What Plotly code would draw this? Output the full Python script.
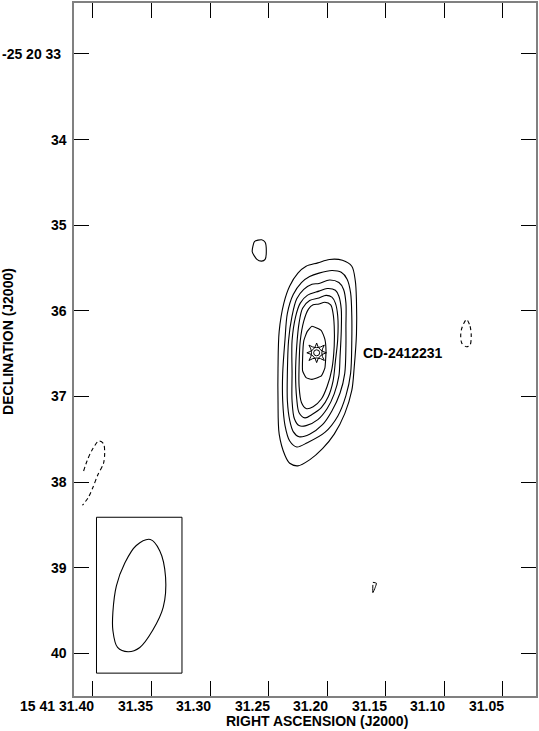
import plotly.graph_objects as go

FONT = "Liberation Sans, Arial, Helvetica, sans-serif"

# axis ticks (RA in seconds of 15h41m, Dec in arcsec of -25d20m)
RA_TICKS = [31.40, 31.35, 31.30, 31.25, 31.20, 31.15, 31.10, 31.05]
RA_LABELS = ["15 41 31.40", "31.35", "31.30", "31.25", "31.20", "31.15", "31.10", "31.05"]
DEC_TICKS = [33, 34, 35, 36, 37, 38, 39, 40]
DEC_LABELS = ["-25 20 33", "34", "35", "36", "37", "38", "39", "40"]

# main source contours, outer to inner
C1_RA = [31.208, 31.198, 31.187, 31.179, 31.176, 31.175, 31.175, 31.177, 31.179, 31.185, 31.194, 31.204,
         31.215, 31.225, 31.232, 31.236, 31.241, 31.242, 31.242, 31.241, 31.237, 31.232, 31.225, 31.218]
C1_DEC = [35.44, 35.40, 35.41, 35.48, 35.65, 35.89, 36.27, 36.67, 36.93, 37.20, 37.44, 37.61,
          37.74, 37.81, 37.78, 37.69, 37.44, 37.05, 36.67, 36.24, 35.91, 35.71, 35.56, 35.48]
C2_RA = [31.207, 31.196, 31.188, 31.183, 31.180, 31.179, 31.179, 31.180, 31.184, 31.191, 31.202,
         31.217, 31.226, 31.232, 31.236, 31.238, 31.238, 31.236, 31.234, 31.229, 31.222, 31.215]
C2_DEC = [35.56, 35.53, 35.55, 35.63, 35.79, 36.06, 36.35, 36.73, 36.99, 37.23, 37.42,
          37.54, 37.59, 37.52, 37.34, 37.05, 36.73, 36.33, 36.03, 35.81, 35.67, 35.60]
C3_RA = [31.207, 31.198, 31.190, 31.186, 31.184, 31.184, 31.184, 31.185, 31.189, 31.196, 31.204,
         31.215, 31.224, 31.229, 31.232, 31.234, 31.234, 31.233, 31.230, 31.226, 31.220, 31.213]
C3_DEC = [35.68, 35.64, 35.67, 35.75, 35.91, 36.18, 36.41, 36.73, 36.96, 37.17, 37.33,
          37.44, 37.47, 37.41, 37.28, 37.05, 36.73, 36.35, 36.06, 35.86, 35.75, 35.69]
C4_RA = [31.207, 31.200, 31.193, 31.190, 31.188, 31.188, 31.189, 31.190, 31.194, 31.200,
         31.208, 31.218, 31.224, 31.228, 31.230, 31.230, 31.230, 31.227, 31.223, 31.217]
C4_DEC = [35.77, 35.74, 35.76, 35.83, 35.98, 36.24, 36.53, 36.76, 36.97, 37.14,
          37.27, 37.34, 37.34, 37.26, 37.05, 36.73, 36.35, 36.07, 35.91, 35.82]
C5_RA = [31.207, 31.201, 31.196, 31.193, 31.191, 31.191, 31.193, 31.195, 31.199, 31.205,
         31.213, 31.219, 31.224, 31.226, 31.227, 31.226, 31.224, 31.221, 31.215]
C5_DEC = [35.85, 35.82, 35.84, 35.91, 36.06, 36.33, 36.59, 36.82, 37.00, 37.13,
          37.21, 37.25, 37.19, 37.03, 36.73, 36.41, 36.14, 35.97, 35.88]
C6_RA = [31.207, 31.202, 31.197, 31.195, 31.194, 31.194, 31.196, 31.200, 31.205,
         31.212, 31.218, 31.222, 31.224, 31.224, 31.223, 31.220, 31.216, 31.212]
C6_DEC = [35.92, 35.90, 35.93, 36.03, 36.18, 36.41, 36.68, 36.88, 37.03,
          37.12, 37.14, 37.07, 36.88, 36.64, 36.35, 36.12, 35.98, 35.93]
C7_RA = [31.213, 31.205, 31.202, 31.201, 31.202, 31.205, 31.213, 31.218, 31.221, 31.221, 31.220, 31.217]
C7_DEC = [36.18, 36.23, 36.33, 36.47, 36.67, 36.76, 36.80, 36.78, 36.70, 36.55, 36.35, 36.24]

# small positive blob NE of the source
BLOB_RA = [31.262, 31.256, 31.253, 31.252, 31.253, 31.256, 31.260, 31.264]
BLOB_DEC = [35.19, 35.17, 35.20, 35.31, 35.40, 35.42, 35.40, 35.31]
# tiny positive feature in the south
SPOT_RA = [31.161, 31.158, 31.159, 31.161, 31.161]
SPOT_DEC = [39.17, 39.18, 39.23, 39.29, 39.20]

# negative (dashed) contours
NEG_E_RA = [31.081, 31.078, 31.077, 31.078, 31.081, 31.085, 31.086, 31.085]
NEG_E_DEC = [36.10, 36.18, 36.29, 36.40, 36.42, 36.38, 36.29, 36.20]
NEG_W_RA = [31.408, 31.405, 31.401, 31.395, 31.391, 31.390, 31.391, 31.396, 31.400, 31.404, 31.409]
NEG_W_DEC = [37.87, 37.75, 37.63, 37.52, 37.55, 37.66, 37.78, 37.92, 38.06, 38.18, 38.27]

# restoring beam and its box
BEAM_RA = [31.351, 31.343, 31.338, 31.340, 31.349, 31.360, 31.370, 31.379, 31.383, 31.383, 31.380, 31.373, 31.363]
BEAM_DEC = [38.67, 38.80, 39.11, 39.46, 39.73, 39.93, 39.98, 39.93, 39.73, 39.52, 39.21, 38.95, 38.74]
BOX_RA = [31.397, 31.324]
BOX_DEC = [38.41, 40.23]

# star position and name
STAR_RA = 31.209
STAR_DEC = 36.49
STAR_NAME = "CD-2412231"
LABEL_RA = 31.171

fig = go.Figure()


def closed(ra, dec, dash="solid", smooth=0.9):
    fig.add_trace(go.Scatter(x=ra + ra[:1], y=dec + dec[:1], mode="lines", hoverinfo="skip",
                             line=dict(color="black", width=1.1, dash=dash,
                                       shape="spline", smoothing=smooth)))


for ra, dec in [(C1_RA, C1_DEC), (C2_RA, C2_DEC), (C3_RA, C3_DEC), (C4_RA, C4_DEC),
                (C5_RA, C5_DEC), (C6_RA, C6_DEC)]:
    closed(ra, dec)
closed(C7_RA, C7_DEC, smooth=0.4)
closed(BLOB_RA, BLOB_DEC, smooth=0.6)
closed(BEAM_RA, BEAM_DEC, smooth=1.0)
closed(NEG_E_RA, NEG_E_DEC, dash="4px,3px", smooth=0.8)

fig.add_trace(go.Scatter(x=SPOT_RA, y=SPOT_DEC, mode="lines", hoverinfo="skip",
                         line=dict(color="black", width=1, shape="spline", smoothing=0.5)))
fig.add_trace(go.Scatter(x=NEG_W_RA, y=NEG_W_DEC, mode="lines", hoverinfo="skip",
                         line=dict(color="black", width=1.1, dash="4px,3px", shape="spline", smoothing=0.8)))

fig.add_shape(type="rect", x0=BOX_RA[0], x1=BOX_RA[1], y0=BOX_DEC[0], y1=BOX_DEC[1],
              line=dict(color="black", width=1))

# star symbol: two four-point stars plus a small ring
for sym, size in [("star-square-open", 14), ("star-diamond-open", 14), ("circle-open", 6)]:
    fig.add_trace(go.Scatter(x=[STAR_RA], y=[STAR_DEC], mode="markers", hoverinfo="skip",
                             marker=dict(symbol=sym, size=size, color="black", line=dict(width=1, color="black"))))

fig.add_annotation(x=LABEL_RA, y=STAR_DEC, text="<b>%s</b>" % STAR_NAME, showarrow=False,
                   xanchor="left", yanchor="middle", font=dict(size=14))

for v, t in zip(RA_TICKS, RA_LABELS):
    fig.add_annotation(x=v, y=0, xref="x", yref="paper", text="<b>%s</b>" % t, showarrow=False,
                       xanchor="right", yanchor="middle", xshift=3, yshift=-10, font=dict(size=14))
for i, (v, t) in enumerate(zip(DEC_TICKS, DEC_LABELS)):
    fig.add_annotation(x=0, y=v, xref="paper", yref="y", text="<b>%s</b>" % t, showarrow=False,
                       xanchor="right", yanchor="middle", xshift=-11 if i == 0 else -5,
                       font=dict(size=14))

fig.add_annotation(x=0.527, y=0, xref="paper", yref="paper", text="<b>RIGHT ASCENSION (J2000)</b>",
                   showarrow=False, yanchor="middle", yshift=-25, font=dict(size=14))
fig.add_annotation(x=0, y=0.511, xref="paper", yref="paper", text="<b>DECLINATION (J2000)</b>",
                   showarrow=False, textangle=-90, xanchor="center", yanchor="middle", xshift=-66,
                   font=dict(size=14))

axis = dict(showgrid=False, zeroline=False, showline=True, linecolor="#808080", linewidth=2,
            mirror="ticks", ticks="inside", ticklen=15, tickwidth=1, tickcolor="black",
            showticklabels=False)
fig.update_xaxes(range=[31.4162, 31.0217], tickvals=RA_TICKS, **axis)
fig.update_yaxes(range=[40.497, 32.406], tickvals=DEC_TICKS, **axis)

fig.update_layout(width=539, height=731, margin=dict(l=74, r=2, t=1, b=35),
                  plot_bgcolor="white", paper_bgcolor="white", showlegend=False,
                  font=dict(family=FONT, size=14, color="black"))

fig.write_html("out.html", config={"displayModeBar": False},
               post_script="document.body.style.margin='0';")
